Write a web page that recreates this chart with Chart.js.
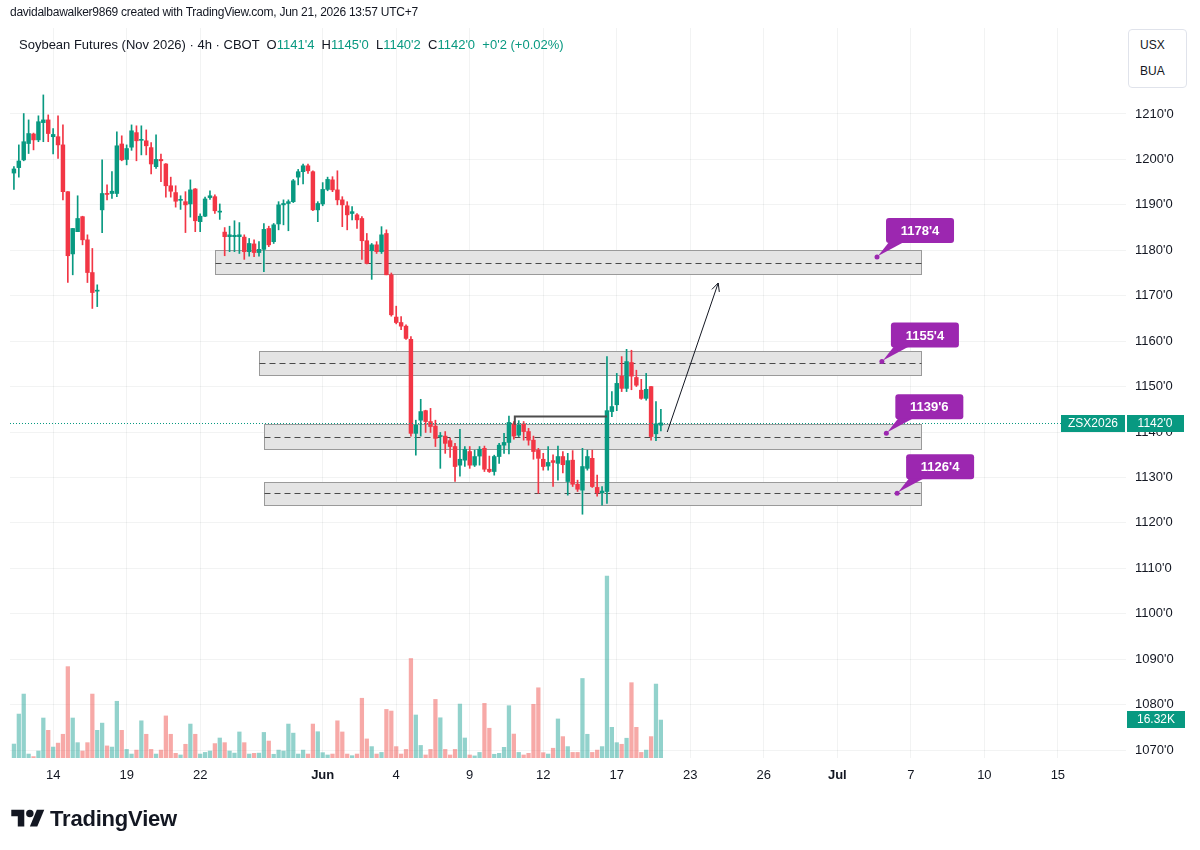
<!DOCTYPE html>
<html>
<head>
<meta charset="utf-8">
<script src="https://cdn.jsdelivr.net/npm/chart.js@4.4.1/dist/chart.umd.min.js"></script>
<style>
  body { margin: 0; background: #fff; font-family: "Liberation Sans", Arial, sans-serif; color: #131722; }
  #wrap { position: relative; width: 1200px; height: 850px; overflow: hidden; }
  canvas { position: absolute; left: 0; top: 0; }
  .txt { position: absolute; white-space: pre; font-size: 13px; }
  .up { color: #089981; }
  #scalebox { position: absolute; left: 1128px; top: 29px; width: 57px; height: 57px; border: 1px solid #e0e3eb; border-radius: 4px; background: #fff; }
  #scalebox div { position: absolute; left: 11px; font-size: 12px; }
  #logo { position: absolute; left: 10px; top: 806px; display: flex; align-items: center; }
  #logo span { font-weight: bold; font-size: 22px; margin-left: 4px; letter-spacing: -0.2px; }
</style>
</head>
<body>
<div id="wrap">
  <canvas id="chart" width="1200" height="850"></canvas>
  <div class="txt" style="left:10px;top:5px;font-size:12px;letter-spacing:-0.25px;">davidalbawalker9869 created with TradingView.com, Jun 21, 2026 13:57 UTC+7</div>
  <div class="txt" style="left:19px;top:37px;">Soybean Futures (Nov 2026) · 4h · CBOT  O<span class="up">1141'4</span>  H<span class="up">1145'0</span>  L<span class="up">1140'2</span>  C<span class="up">1142'0</span>  <span class="up">+0'2 (+0.02%)</span></div>
  <div id="scalebox"><div style="top:8px;">USX</div><div style="top:34px;">BUA</div></div>
  <div id="logo">
    <svg width="36" height="26" viewBox="0 0 36 28"><path d="M14 22H7V11H0V4h14v18z" fill="#131722"/><circle cx="20" cy="8" r="4" fill="#131722"/><path d="M28 22h-8l7.5-18h8L28 22z" fill="#131722"/></svg>
    <span>TradingView</span>
  </div>
</div>
<script>
// 4h candles, ZSX2026 (index = bar number)
const opens  = [1197.0,1198.2,1199.9,1203.5,1205.6,1204.3,1208.1,1208.7,1205.0,1205.0,1203.2,1192.9,1179.2,1184.1,1187.4,1182.3,1175.1,1171.0,1188.9,1192.5,
  1192.5,1192.5,1203.4,1200.0,1202.7,1205.9,1204.2,1204.1,1202.6,1198.4,1200.0,1199.0,1194.2,1192.7,1191.0,1190.7,1190.2,1193.5,1186.3,1187.5,
  1191.6,1191.8,1188.4,1184.0,1183.0,1183.0,1183.0,1182.9,1179.7,1181.4,1179.5,1180.2,1184.8,1181.9,1185.8,1190.0,1190.3,1190.7,1196.1,1197.3,
  1198.6,1197.3,1188.9,1190.2,1193.4,1195.5,1193.3,1191.1,1189.8,1188.1,1187.8,1187.0,1182.1,1179.9,1181.2,1179.7,1183.7,1174.6,1165.3,1164.1,
  1163.3,1160.4,1139.7,1142.6,1144.7,1142.3,1141.3,1139.0,1139.1,1138.1,1136.8,1132.7,1133.8,1135.7,1132.7,1134.7,1136.4,1131.8,1131.3,1134.6,
  1137.1,1137.7,1141.8,1139.3,1141.8,1140.1,1138.2,1136.0,1134.0,1132.5,1133.7,1133.1,1134.6,1129.1,1133.8,1128.5,1127.2,1132.0,1134.2,1127.8,
  1126.6,1126.9,1144.5,1146.0,1152.3,1149.6,1155.3,1152.0,1149.2,1147.4,1150.0,1139.6,1141.5];
const highs  = [1198.4,1203.2,1210.1,1208.7,1205.8,1209.6,1214.2,1209.8,1206.8,1209.6,1207.6,1192.9,1184.8,1192.0,1187.5,1183.4,1180.4,1172.4,1199.9,1194.4,
  1197.3,1206.1,1205.2,1203.2,1207.6,1207.4,1207.4,1206.5,1203.7,1205.4,1201.2,1199.1,1196.1,1194.2,1192.0,1192.9,1195.5,1193.6,1188.0,1191.7,
  1193.1,1192.2,1190.2,1185.0,1185.3,1186.5,1186.1,1183.4,1182.6,1182.3,1181.9,1185.9,1185.3,1185.9,1190.7,1191.1,1191.1,1195.6,1197.8,1199.0,
  1199.0,1197.5,1190.7,1194.9,1196.1,1196.2,1197.5,1191.8,1190.7,1189.6,1188.1,1187.4,1183.7,1181.5,1181.9,1185.2,1184.5,1175.0,1167.7,1165.4,
  1163.6,1161.0,1142.6,1147.2,1144.8,1145.2,1142.6,1139.9,1140.1,1138.6,1137.5,1140.6,1136.8,1136.8,1136.0,1136.8,1136.9,1134.7,1134.9,1137.5,
  1139.7,1143.5,1142.3,1142.5,1142.3,1140.8,1139.1,1136.4,1135.3,1136.8,1135.0,1136.9,1135.7,1135.3,1135.9,1129.4,1136.4,1136.0,1136.0,1130.5,
  1128.0,1156.6,1148.9,1152.9,1156.6,1158.2,1158.0,1153.6,1151.6,1152.9,1150.0,1146.7,1145.0];
const lows   = [1193.4,1196.1,1199.7,1201.3,1202.1,1203.9,1203.9,1203.9,1201.2,1200.2,1191.1,1172.9,1174.6,1184.1,1181.2,1172.9,1167.2,1167.6,1183.9,1191.1,
  1191.4,1191.8,1199.7,1198.8,1202.0,1199.7,1201.0,1201.0,1196.8,1198.0,1195.1,1191.7,1191.7,1189.5,1189.0,1183.9,1187.3,1184.1,1184.1,1187.4,
  1191.2,1188.1,1186.8,1178.8,1179.7,1179.7,1179.3,1178.0,1178.7,1178.6,1178.7,1175.3,1180.8,1181.5,1184.5,1185.6,1184.3,1190.5,1194.4,1194.6,
  1196.9,1188.7,1186.3,1189.8,1193.1,1192.9,1190.0,1185.2,1184.5,1186.7,1184.8,1178.0,1177.0,1173.6,1179.3,1179.3,1174.6,1165.5,1163.8,1162.5,
  1160.4,1139.1,1134.9,1139.1,1139.9,1139.9,1136.8,1132.0,1135.3,1134.4,1129.1,1130.3,1132.4,1132.0,1132.4,1132.7,1131.3,1131.1,1130.5,1133.1,
  1135.3,1135.2,1138.4,1139.0,1138.2,1137.1,1134.0,1126.5,1131.6,1131.6,1128.0,1129.4,1131.0,1126.1,1128.0,1126.9,1121.9,1131.6,1127.8,1125.9,
  1123.9,1124.3,1143.4,1144.7,1148.9,1148.9,1149.3,1150.0,1147.2,1147.0,1138.2,1138.1,1140.25];
const closes = [1197.9,1199.65,1203.9,1205.7,1204.3,1208.3,1208.7,1205.7,1205.5,1203.2,1192.9,1178.8,1184.8,1187.0,1182.3,1175.1,1170.7,1171.2,1192.5,1192.3,
  1193.0,1203.0,1199.9,1202.4,1206.3,1204.1,1204.3,1203.0,1199.0,1200.0,1199.7,1194.2,1193.0,1190.8,1191.2,1190.0,1193.3,1186.5,1187.5,1191.3,
  1192.0,1188.7,1188.5,1183.0,1183.4,1183.3,1183.4,1179.7,1181.5,1179.5,1180.2,1184.6,1181.2,1185.6,1190.0,1190.3,1190.7,1195.3,1197.3,1198.6,
  1197.5,1188.9,1190.3,1193.4,1195.6,1193.3,1191.1,1190.0,1187.8,1188.5,1186.7,1182.1,1177.1,1181.2,1179.7,1183.4,1174.6,1165.8,1164.1,1163.3,
  1160.6,1139.7,1141.5,1144.5,1142.3,1141.2,1138.6,1139.2,1137.5,1136.8,1132.4,1134.0,1136.2,1132.7,1134.6,1136.2,1131.8,1131.3,1134.6,1137.1,
  1137.7,1142.1,1139.1,1141.5,1140.1,1138.2,1135.7,1134.2,1132.4,1133.3,1133.3,1134.6,1132.8,1133.7,1128.5,1127.4,1132.4,1134.6,1128.0,1126.6,
  1127.0,1144.7,1145.6,1150.7,1149.6,1155.5,1152.3,1150.3,1147.4,1149.4,1139.0,1141.8,1142.0];
// volume, thousands
const volumes = [6.0,18.9,27.5,1.7,0.6,3.0,17.2,11.9,4.7,6.4,10.2,39.3,17.2,6.6,3.0,6.6,27.5,11.9,15.0,5.2,
  4.7,24.4,11.9,3.7,1.7,3.4,16.0,10.2,3.7,1.7,3.4,18.1,10.2,2.0,1.3,5.9,14.6,10.2,1.7,2.4,
  3.0,6.2,8.6,6.6,3.0,2.1,11.2,6.6,1.7,2.0,2.1,11.0,7.3,1.6,3.4,3.0,14.6,10.7,1.7,3.4,
  1.7,14.6,11.3,2.3,1.3,1.7,16.0,11.2,1.7,1.0,1.7,25.7,8.2,4.9,1.7,2.4,20.9,20.2,4.9,1.7,
  3.7,42.8,18.5,5.4,1.3,3.7,25.2,17.3,3.7,1.3,3.7,23.2,8.6,1.3,0.9,2.4,23.5,12.8,1.6,2.0,
  4.6,22.5,10.3,2.4,1.3,2.0,23.1,30.2,2.3,1.7,4.2,16.8,9.2,4.9,2.4,2.4,34.2,10.2,2.4,3.4,
  4.9,78.3,13.2,6.6,5.9,8.5,32.4,13.2,2.4,3.4,9.2,31.8,16.32];

// time axis labels (bar index of first bar of that day)
const dateTickIndex = [8, 23, 38, 63, 78, 93, 108, 123, 138, 153, 168, 183, 198, 213];
const dateTickLabels = ['14', '19', '22', 'Jun', '4', '9', '12', '17', '23', '26', 'Jul', '7', '10', '15'];
const priceTicks = [1070, 1080, 1090, 1100, 1110, 1120, 1130, 1140, 1150, 1160, 1170, 1180, 1190, 1200, 1210];

// drawn zones
const zoneTop    = [1180.1, 1157.8, 1141.8, 1129.0];
const zoneBottom = [1174.8, 1152.6, 1136.3, 1123.9];
const zoneMid    = [1177.2, 1155.2, 1138.9, 1126.6];
const zoneFrom   = [41, 50, 51, 51];
const zoneTo     = [185, 185, 185, 185];
const calloutText  = ["1178'4", "1155'4", "1139'6", "1126'4"];
const calloutPrice = [1178.5, 1155.5, 1139.75, 1126.5];
const calloutIndex = [176.1, 177.1, 178, 180.2];
const prevHigh = { from: 102.2, to: 121, price: 1143.4, tickTo: 1141.6 };
const arrowFrom = [133.3, 1140.0];
const arrowTo = [143.7, 1172.8];
const lastPrice = 1142.0;
const lastVolume = 16.32;

const UP = '#089981', DOWN = '#f23645';
const isUp = i => closes[i] >= opens[i];

const wickData = opens.map((o, i) => ({ x: i, y: [lows[i], highs[i]] }));
const bodyData = opens.map((o, i) => ({ x: i, y: [Math.min(o, closes[i]), Math.max(o, closes[i])] }));
const volData = volumes.map((v, i) => ({ x: i, y: v }));

const drawings = {
  id: 'drawings',
  beforeDatasetsDraw(chart) {
    const { ctx, scales: { x, y } } = chart;
    ctx.save();
    for (let k = 0; k < zoneTop.length; k++) {
      const x0 = Math.round(x.getPixelForValue(zoneFrom[k])) + 0.5;
      const x1 = Math.round(x.getPixelForValue(zoneTo[k])) + 0.5;
      const y0 = Math.round(y.getPixelForValue(zoneTop[k])) + 0.5;
      const y1 = Math.round(y.getPixelForValue(zoneBottom[k])) + 0.5;
      ctx.fillStyle = '#e4e4e4';
      ctx.fillRect(x0, y0, x1 - x0, y1 - y0);
      ctx.strokeStyle = '#9a9a9a';
      ctx.lineWidth = 1;
      ctx.strokeRect(x0, y0, x1 - x0, y1 - y0);
      const ym = Math.round(y.getPixelForValue(zoneMid[k])) + 0.5;
      ctx.strokeStyle = '#4a4a4a';
      ctx.setLineDash([6, 4]);
      ctx.beginPath();
      ctx.moveTo(x0, ym);
      ctx.lineTo(x1, ym);
      ctx.stroke();
      ctx.setLineDash([]);
    }
    ctx.restore();
  },
  afterDatasetsDraw(chart) {
    const { ctx, chartArea, scales: { x, y } } = chart;
    ctx.save();
    // last price dotted line
    const yl = Math.round(y.getPixelForValue(lastPrice)) + 0.5;
    ctx.strokeStyle = UP;
    ctx.lineWidth = 1;
    ctx.setLineDash([1, 2]);
    ctx.beginPath();
    ctx.moveTo(chartArea.left, yl);
    ctx.lineTo(chartArea.right, yl);
    ctx.stroke();
    ctx.setLineDash([]);

    // previous high line
    const ph = y.getPixelForValue(prevHigh.price);
    const pa = x.getPixelForValue(prevHigh.from), pb = x.getPixelForValue(prevHigh.to);
    ctx.strokeStyle = '#4d4d4d';
    ctx.lineWidth = 2;
    ctx.beginPath();
    ctx.moveTo(pa, y.getPixelForValue(prevHigh.tickTo));
    ctx.lineTo(pa, ph);
    ctx.lineTo(pb, ph);
    ctx.stroke();

    // arrow
    const ax0 = x.getPixelForValue(arrowFrom[0]), ay0 = y.getPixelForValue(arrowFrom[1]);
    const ax1 = x.getPixelForValue(arrowTo[0]), ay1 = y.getPixelForValue(arrowTo[1]);
    const ang = Math.atan2(ay1 - ay0, ax1 - ax0);
    ctx.strokeStyle = '#131722';
    ctx.lineWidth = 1;
    ctx.beginPath();
    ctx.moveTo(ax0, ay0);
    ctx.lineTo(ax1, ay1);
    ctx.moveTo(ax1 - 9 * Math.cos(ang - 0.45), ay1 - 9 * Math.sin(ang - 0.45));
    ctx.lineTo(ax1, ay1);
    ctx.lineTo(ax1 - 9 * Math.cos(ang + 0.45), ay1 - 9 * Math.sin(ang + 0.45));
    ctx.stroke();

    // callouts
    ctx.font = 'bold 13px "Liberation Sans", Arial, sans-serif';
    ctx.textBaseline = 'middle';
    for (let k = 0; k < calloutText.length; k++) {
      const dx = x.getPixelForValue(calloutIndex[k]);
      const dy = y.getPixelForValue(calloutPrice[k]);
      const bx = dx + 9, by = dy - 39, bw = 68, bh = 25;
      ctx.fillStyle = '#9c27b0';
      ctx.beginPath();
      ctx.roundRect(bx, by, bw, bh, 3);
      ctx.fill();
      ctx.beginPath();
      ctx.moveTo(bx + 3, by + bh - 1);
      ctx.lineTo(bx + 18, by + bh - 1);
      ctx.lineTo(dx + 1, dy - 1);
      ctx.closePath();
      ctx.fill();
      ctx.beginPath();
      ctx.arc(dx, dy, 2.5, 0, Math.PI * 2);
      ctx.fill();
      ctx.fillStyle = '#fff';
      ctx.textAlign = 'center';
      ctx.fillText(calloutText[k], bx + bw / 2, by + bh / 2 + 1);
    }
    ctx.restore();
  },
  afterDraw(chart) {
    const { ctx, chartArea, scales: { y, yv } } = chart;
    ctx.save();
    ctx.font = '12px "Liberation Sans", Arial, sans-serif';
    ctx.textBaseline = 'middle';
    ctx.textAlign = 'center';
    const yl = Math.round(y.getPixelForValue(lastPrice));
    ctx.fillStyle = UP;
    ctx.fillRect(chartArea.right - 65, yl - 8, 64, 17);
    ctx.fillRect(chartArea.right + 1, yl - 8, 57, 17);
    ctx.fillStyle = '#fff';
    ctx.fillText('ZSX2026', chartArea.right - 33, yl + 1);
    ctx.fillText("1142'0", chartArea.right + 29, yl + 1);
    const yv0 = Math.round(yv.getPixelForValue(lastVolume));
    ctx.fillStyle = UP;
    ctx.fillRect(chartArea.right + 1, yv0 - 9, 58, 17);
    ctx.fillStyle = '#fff';
    ctx.fillText(lastVolume.toFixed(2) + 'K', chartArea.right + 30, yv0);
    ctx.restore();
  }
};

const gridColor = 'rgba(42,46,57,0.06)';

new Chart(document.getElementById('chart').getContext('2d'), {
  type: 'bar',
  data: {
    datasets: [
      {
        label: 'Volume',
        data: volData,
        yAxisID: 'yv',
        backgroundColor: volData.map((d, i) => isUp(i) ? 'rgba(38,166,154,0.5)' : 'rgba(239,83,80,0.5)'),
        barThickness: 3.6,
        grouped: false,
        order: 3
      },
      {
        label: 'Wick',
        data: wickData,
        yAxisID: 'y',
        backgroundColor: wickData.map((d, i) => isUp(i) ? UP : DOWN),
        barThickness: 1,
        grouped: false,
        order: 2
      },
      {
        label: 'Body',
        data: bodyData,
        yAxisID: 'y',
        backgroundColor: bodyData.map((d, i) => isUp(i) ? UP : DOWN),
        barThickness: 3.8,
        minBarLength: 1,
        grouped: false,
        order: 1
      }
    ]
  },
  options: {
    responsive: false,
    animation: false,
    devicePixelRatio: 1,
    layout: { padding: { left: 10, top: 28, right: 10, bottom: 58 } },
    plugins: { legend: { display: false }, tooltip: { enabled: false } },
    scales: {
      x: {
        type: 'linear',
        min: -0.8,
        max: 226.9,
        offset: false,
        afterBuildTicks: s => { s.ticks = dateTickIndex.map(v => ({ value: v })); },
        afterFit: s => { s.height = 34; },
        ticks: {
          autoSkip: false,
          maxRotation: 0,
          padding: 10,
          color: '#131722',
          font: ctx => ({ size: 13, family: '"Liberation Sans", Arial, sans-serif', weight: /^[A-Z]/.test(dateTickLabels[ctx.index] || '') ? 'bold' : 'normal' }),
          callback: (v, i) => dateTickLabels[i]
        },
        grid: { color: gridColor, drawTicks: false, offset: false },
        border: { display: false }
      },
      y: {
        position: 'right',
        min: 1068.24,
        max: 1228.93,
        afterBuildTicks: s => { s.ticks = priceTicks.map(v => ({ value: v })); },
        afterFit: s => { s.width = 64; },
        ticks: {
          padding: 9,
          color: '#131722',
          font: { size: 13, family: '"Liberation Sans", Arial, sans-serif' },
          callback: v => v + "'0"
        },
        grid: { color: gridColor, drawTicks: false },
        border: { display: false }
      },
      yv: {
        display: false,
        min: 0,
        max: 314
      }
    }
  },
  plugins: [drawings]
});
</script>
</body>
</html>
